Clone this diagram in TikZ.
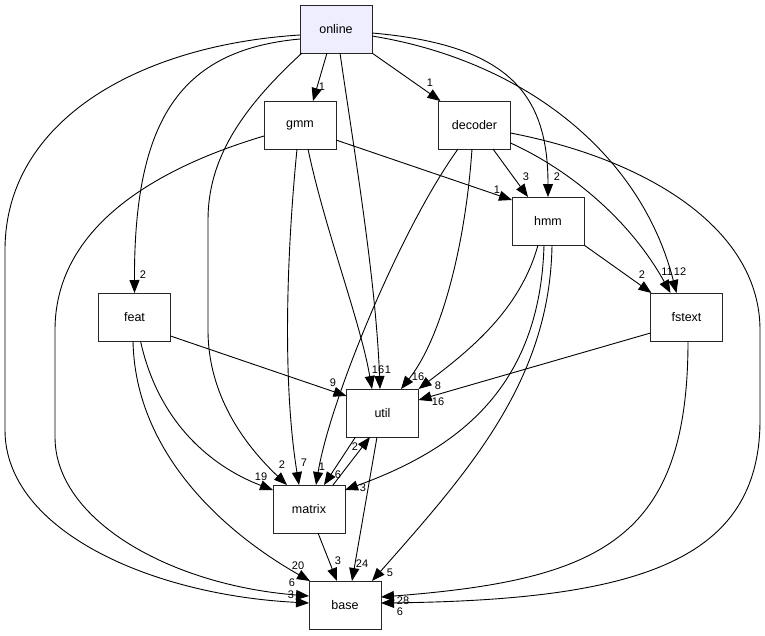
\documentclass[tikz,border=0pt]{standalone}
\usepackage{fontspec}
\setmainfont{Liberation Sans}
\usetikzlibrary{arrows.meta,calc}
\definecolor{onlinefill}{HTML}{EEEEFF}
\begin{document}
\begin{tikzpicture}[x=1pt,y=-1pt,
  box/.style={draw=black!85, line width=0.9pt, fill=white, minimum width=72pt, minimum height=48pt, inner sep=0pt, outer sep=0pt, font=\fontsize{12.5}{14}\selectfont},
  edge/.style={draw=black, line width=0.9pt, -{Triangle[length=13pt,width=10pt]}},
  lbl/.style={inner sep=0pt, font=\fontsize{11}{12}\selectfont}]
\useasboundingbox (0,0) rectangle (765,635);
\fill[white] (0,0) rectangle (765,635);

\node[box, fill=onlinefill] (online) at (336,29) {online};
\node[box] (gmm) at (300,125) {gmm};
\node[box] (decoder) at (474.5,125) {decoder};
\node[box] (hmm) at (548,221) {hmm};
\node[box] (feat) at (134.5,317) {feat};
\node[box] (fstext) at (686.5,317) {fstext};
\node[box] (util) at (382.5,413) {util};
\node[box] (matrix) at (309,509) {matrix};
\node[box] (base) at (345,605) {base};

% online
\draw[edge] ($(online.south)+(-9,0)$) -- ($(gmm.north)+(13,0)$);
\draw[edge] (online.south east) -- ($(decoder.north west)+(2,0)$);
\draw[edge] ($(online.south)+(4,0)$) .. controls (354,150) and (376,280) .. ($(util.north)+(-2.5,0)$);
\draw[edge] ($(online.south west)+(2,0)$) .. controls (240,110) and (208,160) .. (208,220) -- (208,330) .. controls (208,400) and (250,450) .. ($(matrix.north)+(-22,0)$);
\draw[edge] ($(online.west)+(0,10)$) .. controls (180,50) and (134,120) .. (feat.north);
\draw[edge] ($(online.west)+(0,6)$) .. controls (140,45) and (5,120) .. (5,250) -- (5,430) .. controls (5,530) and (150,595) .. ($(base.west)+(0,-2)$);
\draw[edge] ($(online.east)+(0,4)$) .. controls (510,45) and (548,95) .. (hmm.north);
\draw[edge] ($(online.east)+(0,7)$) .. controls (520,60) and (640,150) .. ($(fstext.north)+(-10,0)$);

% gmm
\draw[edge] ($(gmm.south)+(8,0)$) .. controls (325,230) and (360,320) .. ($(util.north)+(-10.5,0)$);
\draw[edge] ($(gmm.west)+(0,11)$) .. controls (150,170) and (55,230) .. (55,330) -- (55,437) .. controls (55,520) and (170,585) .. ($(base.west)+(0,-9)$);
\draw[edge] ($(gmm.south)+(-3,0)$) .. controls (287,250) and (282,380) .. ($(matrix.north)+(-10,0)$);
\draw[edge] ($(gmm.east)+(0,15)$) -- ($(hmm.west)+(0,-21)$);

% decoder
\draw[edge] ($(decoder.south)+(18.5,0)$) -- ($(hmm.north)+(-20,0)$);
\draw[edge] ($(decoder.east)+(0,18)$) .. controls (570,170) and (630,220) .. ($(fstext.north)+(-16,0)$);
\draw[edge] ($(decoder.east)+(0,8)$) .. controls (650,160) and (760,230) .. (760,330) -- (760,420) .. controls (760,560) and (640,600) .. ($(base.east)+(0,-2)$);
\draw[edge] ($(decoder.south)+(-2.5,0)$) .. controls (465,250) and (440,340) .. ($(util.north)+(18.5,0)$);
\draw[edge] ($(decoder.south)+(-16.5,0)$) .. controls (400,230) and (330,400) .. ($(matrix.north)+(7,0)$);

% fstext
\draw[edge] ($(fstext.south)+(1.5,0)$) .. controls (688,540) and (600,580) .. ($(base.east)+(0,-8)$);
\draw[edge] ($(fstext.west)+(0,16)$) -- ($(util.east)+(0,-13)$);

% hmm
\draw[edge] (hmm.south east) -- ($(fstext.north west)+(1,0)$);
\draw[edge] ($(hmm.south)+(-10,0)$) .. controls (520,310) and (470,350) .. (util.north east);
\draw[edge] ($(hmm.south)+(-4,0)$) .. controls (540,390) and (455,450) .. ($(matrix.east)+(0,-19)$);
\draw[edge] ($(hmm.south)+(4,0)$) .. controls (550,380) and (470,470) .. ($(base.north)+(27,0)$);

% feat
\draw[edge] ($(feat.east)+(0,19)$) -- ($(util.west)+(0,-17)$);
\draw[edge] ($(feat.south)+(6,0)$) .. controls (160,430) and (220,470) .. ($(matrix.west)+(0,-19)$);
\draw[edge] ($(feat.south)+(-1.5,0)$) .. controls (135,450) and (220,530) .. ($(base.north west)+(1,0)$);

% util / matrix
\draw[edge] ($(util.south)+(-27,0)$) -- ($(matrix.north)+(15,0)$);
\draw[edge] ($(matrix.north)+(24,0)$) -- ($(util.south)+(-12.5,0)$);
\draw[edge] ($(util.south)+(-5.5,0)$) -- ($(base.north)+(7,0)$);
\draw[edge] ($(matrix.south)+(9,0)$) -- ($(base.north)+(-8,0)$);

% labels
\node[lbl] (l1) at (322,87) {1};
\node[lbl] (l2) at (430,83) {1};
\node[lbl] (l3) at (388,370) {1};
\node[lbl] (l4) at (378,370) {16};
\node[lbl] (l5) at (282,465) {2};
\node[lbl] (l6) at (143,275) {2};
\node[lbl] (l7) at (291,595) {3};
\node[lbl] (l8) at (292,583) {6};
\node[lbl] (l9) at (304,463) {7};
\node[lbl] (l10) at (497,190) {1};
\node[lbl] (l11) at (526,177) {3};
\node[lbl] (l12) at (557,177) {2};
\node[lbl] (l13) at (680,272) {12};
\node[lbl] (l14) at (667,272) {11};
\node[lbl] (l15) at (403,601) {28};
\node[lbl] (l16) at (400,612) {6};
\node[lbl] (l17) at (438,402) {16};
\node[lbl] (l18) at (642,275) {2};
\node[lbl] (l19) at (438,386) {8};
\node[lbl] (l20) at (363,488) {3};
\node[lbl] (l21) at (390,573) {5};
\node[lbl] (l22) at (418,377) {16};
\node[lbl] (l23) at (322,467) {1};
\node[lbl] (l24) at (333,383) {9};
\node[lbl] (l25) at (261,477) {19};
\node[lbl] (l26) at (298,566) {20};
\node[lbl] (l27) at (338,475) {6};
\node[lbl] (l28) at (355,447) {2};
\node[lbl] (l29) at (362,564) {24};
\node[lbl] (l30) at (338,561) {3};
\end{tikzpicture}
\end{document}
